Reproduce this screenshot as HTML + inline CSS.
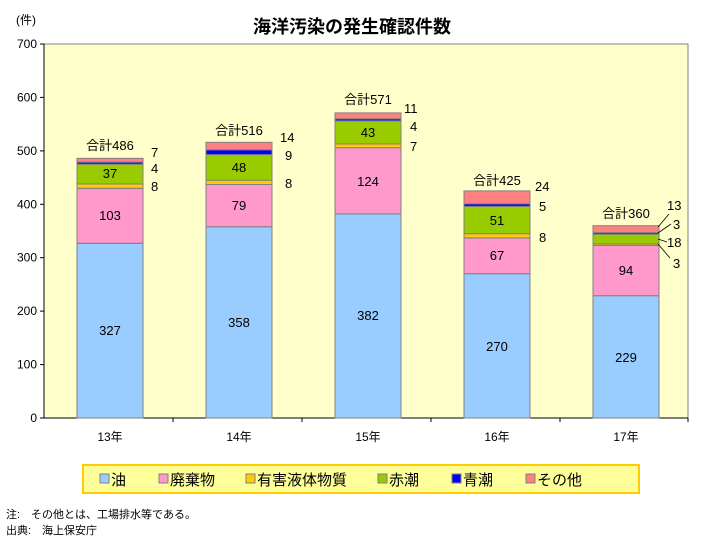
<!DOCTYPE html>
<html><head><meta charset="utf-8"><style>
body{margin:0;background:#fff;}
text{font-family:"Liberation Sans","Noto Sans CJK JP",sans-serif;}
</style></head><body>
<svg width="714" height="548" viewBox="0 0 714 548" xmlns="http://www.w3.org/2000/svg">
<text x="352" y="33" font-size="18" text-anchor="middle" font-weight="bold">海洋汚染の発生確認件数</text>
<text x="16" y="24" font-size="12">(件)</text>
<rect x="44" y="44" width="644" height="374" fill="#FFFFCC" stroke="#808080"/>
<g font-size="12" text-anchor="end">
<text x="37" y="422">0</text><text x="37" y="368.6">100</text><text x="37" y="315.1">200</text><text x="37" y="261.7">300</text><text x="37" y="208.3">400</text><text x="37" y="154.9">500</text><text x="37" y="101.4">600</text><text x="37" y="48">700</text>
</g>
<g stroke="#000"><line x1="44" y1="44" x2="44" y2="418"/><line x1="40" y1="418" x2="688" y2="418"/>
<line x1="40" y1="364.6" x2="44" y2="364.6"/><line x1="40" y1="311.1" x2="44" y2="311.1"/><line x1="40" y1="257.7" x2="44" y2="257.7"/><line x1="40" y1="204.3" x2="44" y2="204.3"/><line x1="40" y1="150.9" x2="44" y2="150.9"/><line x1="40" y1="97.4" x2="44" y2="97.4"/><line x1="40" y1="44" x2="44" y2="44"/>
<line x1="173" y1="418" x2="173" y2="422"/><line x1="302" y1="418" x2="302" y2="422"/><line x1="431" y1="418" x2="431" y2="422"/><line x1="560" y1="418" x2="560" y2="422"/><line x1="688" y1="418" x2="688" y2="422"/></g>
<g stroke="#808080" stroke-width="1">
<rect x="77" y="243.3" width="66" height="174.7" fill="#99CCFF"/>
<rect x="77" y="188.3" width="66" height="55" fill="#FF99CC"/>
<rect x="77" y="184" width="66" height="4.3" fill="#FFCC00"/>
<rect x="77" y="164.2" width="66" height="19.8" fill="#99CC00"/>
<rect x="77" y="162.1" width="66" height="2.1" fill="#0000FF"/>
<rect x="77" y="158.3" width="66" height="3.8" fill="#FF8080"/>
<rect x="206" y="226.7" width="66" height="191.3" fill="#99CCFF"/>
<rect x="206" y="184.5" width="66" height="42.2" fill="#FF99CC"/>
<rect x="206" y="180.2" width="66" height="4.3" fill="#FFCC00"/>
<rect x="206" y="154.6" width="66" height="25.6" fill="#99CC00"/>
<rect x="206" y="149.8" width="66" height="4.8" fill="#0000FF"/>
<rect x="206" y="142.3" width="66" height="7.5" fill="#FF8080"/>
<rect x="335" y="213.9" width="66" height="204.1" fill="#99CCFF"/>
<rect x="335" y="147.7" width="66" height="66.2" fill="#FF99CC"/>
<rect x="335" y="143.9" width="66" height="3.8" fill="#FFCC00"/>
<rect x="335" y="120.9" width="66" height="23" fill="#99CC00"/>
<rect x="335" y="118.8" width="66" height="2.1" fill="#0000FF"/>
<rect x="335" y="112.9" width="66" height="5.9" fill="#FF8080"/>
<rect x="464" y="273.7" width="66" height="144.3" fill="#99CCFF"/>
<rect x="464" y="237.9" width="66" height="35.8" fill="#FF99CC"/>
<rect x="464" y="233.7" width="66" height="4.2" fill="#FFCC00"/>
<rect x="464" y="206.4" width="66" height="27.3" fill="#99CC00"/>
<rect x="464" y="203.8" width="66" height="2.6" fill="#0000FF"/>
<rect x="464" y="190.9" width="66" height="12.9" fill="#FF8080"/>
<rect x="593" y="295.7" width="66" height="122.3" fill="#99CCFF"/>
<rect x="593" y="245.4" width="66" height="50.3" fill="#FF99CC"/>
<rect x="593" y="243.8" width="66" height="1.6" fill="#FFCC00"/>
<rect x="593" y="234.2" width="66" height="9.6" fill="#99CC00"/>
<rect x="593" y="232.6" width="66" height="1.6" fill="#0000FF"/>
<rect x="593" y="225.7" width="66" height="6.9" fill="#FF8080"/>
</g>
<g font-size="13" text-anchor="middle">
<text x="110" y="335">327</text><text x="110" y="220">103</text><text x="110" y="178">37</text>
<text x="239" y="327">358</text><text x="239" y="210">79</text><text x="239" y="172">48</text>
<text x="368" y="320">382</text><text x="368" y="186">124</text><text x="368" y="137">43</text>
<text x="497" y="351">270</text><text x="497" y="260">67</text><text x="497" y="225">51</text>
<text x="626" y="362">229</text><text x="626" y="275">94</text>
<text x="110" y="150">合計486</text><text x="239" y="135">合計516</text><text x="368" y="104">合計571</text><text x="497" y="185">合計425</text><text x="626" y="218">合計360</text>
</g>
<g font-size="13">
<text x="151" y="157">7</text><text x="151" y="173">4</text><text x="151" y="191">8</text>
<text x="280" y="142">14</text><text x="285" y="160">9</text><text x="285" y="188">8</text>
<text x="404" y="113">11</text><text x="410" y="131">4</text><text x="410" y="151">7</text>
<text x="535" y="191">24</text><text x="539" y="211">5</text><text x="539" y="242">8</text>
<text x="667" y="210">13</text><text x="673" y="229">3</text><text x="667" y="247">18</text><text x="673" y="268">3</text>
</g>
<g stroke="#000" stroke-width="0.8">
<line x1="658" y1="227" x2="669" y2="214"/><line x1="658" y1="233" x2="671" y2="224"/><line x1="658" y1="239" x2="667" y2="242"/><line x1="658" y1="244" x2="670" y2="258"/>
</g>
<g font-size="12" text-anchor="middle">
<text x="110" y="441">13年</text><text x="239" y="441">14年</text><text x="368" y="441">15年</text><text x="497" y="441">16年</text><text x="626" y="441">17年</text>
</g>
<rect x="83" y="465" width="556" height="28" fill="#FFFF99" stroke="#FFCC00" stroke-width="2"/>
<g stroke="#808080">
<rect x="100" y="474" width="9" height="9" fill="#99CCFF"/><rect x="159" y="474" width="9" height="9" fill="#FF99CC"/><rect x="246" y="474" width="9" height="9" fill="#FFCC00"/><rect x="378" y="474" width="9" height="9" fill="#99CC00"/><rect x="452" y="474" width="9" height="9" fill="#0000FF"/><rect x="526" y="474" width="9" height="9" fill="#FF8080"/>
</g>
<g font-size="15">
<text x="111" y="485">油</text><text x="170" y="485">廃棄物</text><text x="257" y="485">有害液体物質</text><text x="389" y="485">赤潮</text><text x="463" y="485">青潮</text><text x="537" y="485">その他</text>
</g>
<g font-size="11">
<text x="6" y="518">注:　その他とは、工場排水等である。</text>
<text x="6" y="534">出典:　海上保安庁</text>
</g>
</svg>
</body></html>
